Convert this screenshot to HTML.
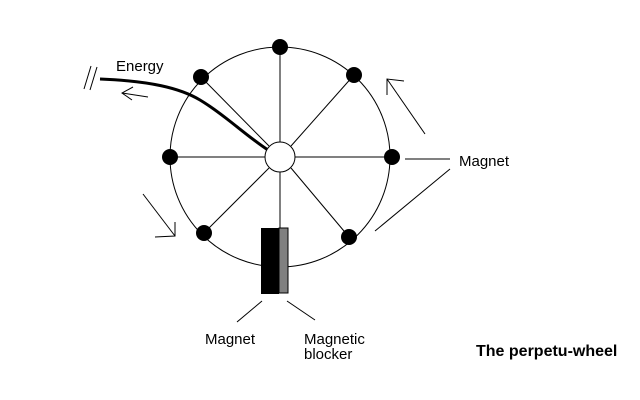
<!DOCTYPE html>
<html><head><style>
html,body{margin:0;padding:0;background:#fff;}
svg{display:block;}
text{font-family:"Liberation Sans",sans-serif;font-size:15px;fill:#000;}
</style></head><body>
<svg width="640" height="400" viewBox="0 0 640 400">
<g stroke="#000" stroke-width="1" fill="none">
<circle cx="280" cy="157" r="110"/>
<line x1="280" y1="47" x2="280" y2="142"/>
<line x1="201" y1="77" x2="269" y2="146"/>
<line x1="354" y1="75" x2="291" y2="146"/>
<line x1="170" y1="157" x2="265" y2="157"/>
<line x1="295" y1="157" x2="392" y2="157"/>
<line x1="204" y1="233" x2="269" y2="168"/>
<line x1="349" y1="237" x2="291" y2="168"/>
<line x1="280" y1="172" x2="280" y2="228"/>
<line x1="425" y1="134" x2="387" y2="79"/>
<polyline points="387,95 387,79 404,81"/>
<line x1="143" y1="194" x2="175" y2="236"/>
<polyline points="155,237 175,236 175,222"/>
<line x1="405" y1="159" x2="450" y2="159"/>
<line x1="450" y1="169" x2="375" y2="231"/>
<line x1="262" y1="301" x2="237" y2="322"/>
<line x1="287" y1="301" x2="315" y2="320"/>
<line x1="148" y1="97" x2="122" y2="93"/>
<polyline points="133,87 122,93 132,100"/>
<line x1="84" y1="89" x2="91" y2="66"/>
<line x1="90" y1="90" x2="97" y2="67"/>
</g>
<path d="M100,79 C150,81 180,88 200,100 C225,115 245,135 268,150" stroke="#000" stroke-width="3" fill="none"/>
<circle cx="280" cy="157" r="15" fill="#fff" stroke="#000"/>
<g fill="#000">
<circle cx="280" cy="47" r="8"/>
<circle cx="201" cy="77" r="8"/>
<circle cx="354" cy="75" r="8"/>
<circle cx="170" cy="157" r="8"/>
<circle cx="392" cy="157" r="8"/>
<circle cx="204" cy="233" r="8"/>
<circle cx="349" cy="237" r="8"/>
</g>
<rect x="279" y="228" width="9" height="65" fill="#808080" stroke="#000"/>
<rect x="261" y="228" width="18" height="66" fill="#000"/>
<text x="116" y="71">Energy</text>
<text x="459" y="166">Magnet</text>
<text x="205" y="344">Magnet</text>
<text x="304" y="344">Magnetic</text>
<text x="304" y="359">blocker</text>
<text x="476" y="356" style="font-weight:bold;font-size:16px">The perpetu-wheel</text>
</svg>
</body></html>
